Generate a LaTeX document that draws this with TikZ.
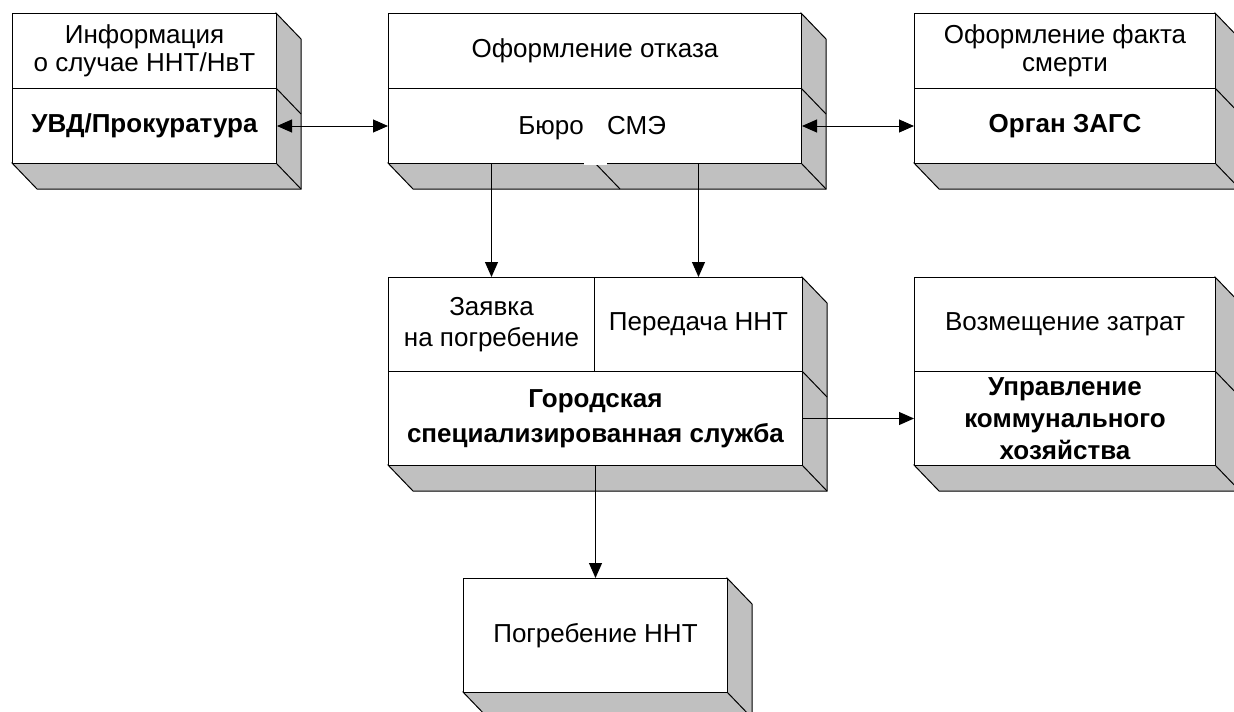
\documentclass[tikz,border=0pt]{standalone}
\usepackage{fontspec}
\setmainfont{Liberation Sans}
\usetikzlibrary{arrows.meta}
\definecolor{boxgray}{HTML}{C0C0C0}
\newcommand{\depthbox}[4]{%
  \filldraw[shadeface] (#3,#2) -- (#3+25,#2+26) -- (#3+25,#4+26) -- (#1+25,#4+26) -- (#1,#4) -- (#3,#4) -- cycle;
  \draw[thinline] (#3,#4) -- (#3+25,#4+26);}
\begin{document}
\begin{tikzpicture}[x=1pt,y=-1pt,
  thinline/.style={draw=black, line width=1pt},
  shadeface/.style={thinline, fill=boxgray, line join=miter},
  sec/.style={thinline, fill=white, inner sep=0pt, anchor=north west, align=center,
              font=\fontsize{26}{28}\selectfont},
  secb/.style={sec, font=\fontsize{26}{28}\selectfont\bfseries},
  txt/.style={inner sep=0pt, font=\fontsize{26}{28}\selectfont},
  conn/.style={thinline, -{Triangle[length=15pt,width=13pt]}},
  conn2/.style={thinline, {Triangle[length=15pt,width=13pt]}-{Triangle[length=15pt,width=13pt]}},
]
\useasboundingbox (0,0) rectangle (1234,712);
\clip (0,0) rectangle (1234,712);

% depth faces
\depthbox{12}{13}{276}{163}
\draw[thinline] (276,88) -- (301,114);
\depthbox{388}{13}{801}{163}
\draw[thinline] (801,88) -- (826,114);
\draw[thinline] (595,163) -- (620,189);
\depthbox{914}{13}{1215}{163}
\draw[thinline] (1215,88) -- (1240,114);
\depthbox{388}{277}{802}{465}
\draw[thinline] (802,371) -- (827,397);
\depthbox{914}{277}{1215}{465}
\draw[thinline] (1215,371) -- (1240,397);
\depthbox{463}{578}{727}{692}

% front faces
\node[sec, minimum width=264pt, minimum height=75pt] (info) at (12,13) {Информация\\о случае ННТ/НвТ};
\node[secb, minimum width=264pt, minimum height=75pt] (uvd) at (12,88) {УВД/Прокуратура};

\node[sec, minimum width=413pt, minimum height=75pt] (otkaz) at (388,13) {Оформление отказа};
\node[sec, minimum width=413pt, minimum height=75pt] (sme) at (388,88) {};
\fill[white] (584,90) rectangle (607,164.6);
\node[txt, anchor=base east] (byuro) at (584,134) {Бюро};
\node[txt, anchor=base west] (smetxt) at (607,134) {СМЭ};

\node[sec, minimum width=301pt, minimum height=75pt] (fact) at (914,13) {Оформление факта\\смерти};
\node[secb, minimum width=301pt, minimum height=75pt] (zags) at (914,88) {Орган ЗАГС};

\node[sec, minimum width=206pt, minimum height=94pt, font=\fontsize{26}{31}\selectfont] (zayavka) at (388,277) {Заявка\\на погребение};
\node[sec, minimum width=208pt, minimum height=94pt] (peredacha) at (594,277) {Передача ННТ};
\node[secb, minimum width=414pt, minimum height=94pt, font=\fontsize{26}{35}\selectfont\bfseries] (gss) at (388,371) {Городская\\специализированная служба};

\node[sec, minimum width=301pt, minimum height=94pt] (vozm) at (914,277) {Возмещение затрат};
\node[secb, minimum width=301pt, minimum height=94pt, font=\fontsize{26}{32}\selectfont\bfseries] (upr) at (914,371) {Управление\\коммунального\\хозяйства};

\node[sec, minimum width=264pt, minimum height=114pt] (pogr) at (463,578) {Погребение ННТ};

% connectors
\draw[conn2] (uvd.east) -- (sme.west);
\draw[conn2] (sme.east) -- (zags.west);
\draw[conn] (sme.south -| zayavka.north) -- (zayavka.north);
\draw[conn] (sme.south -| peredacha.north) -- (peredacha.north);
\draw[conn] (gss.east) -- (upr.west);
\draw[conn] (gss.south) -- (pogr.north);
\end{tikzpicture}
\end{document}
